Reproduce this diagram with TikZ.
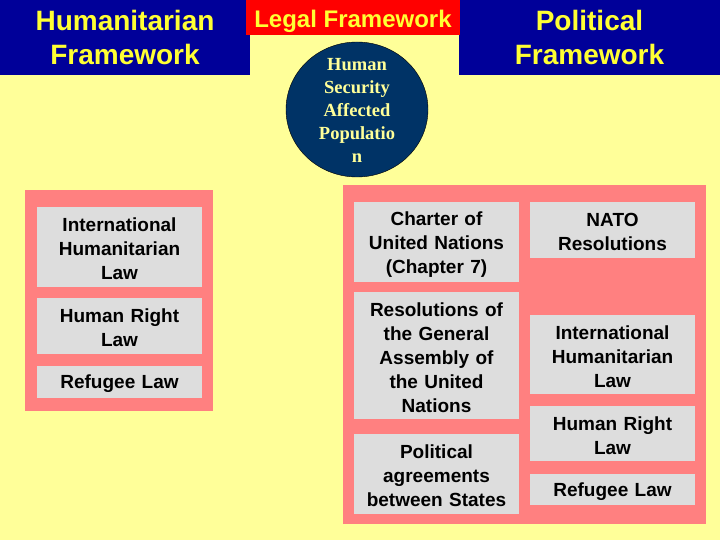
\documentclass[tikz,border=0pt]{standalone}
\usepackage{fontspec}
\setmainfont{Liberation Sans}
\newfontfamily\circlefont{Liberation Serif}

\definecolor{paleyellow}{RGB}{255,255,153}
\definecolor{titleblue}{RGB}{0,0,153}
\definecolor{titlered}{RGB}{255,0,0}
\definecolor{titletext}{RGB}{255,255,51}
\definecolor{panelpink}{RGB}{255,128,128}
\definecolor{boxgray}{RGB}{221,221,221}
\definecolor{circlenavy}{RGB}{0,51,102}

\begin{document}
\begin{tikzpicture}[x=1pt, y=-1pt,
	title/.style={fill=titleblue, text=titletext, inner sep=0pt, align=center, font=\bfseries\fontsize{28}{34}\selectfont},
	panel/.style={fill=panelpink, inner sep=0pt},
	law/.style={fill=boxgray, inner sep=0pt, minimum width=165pt, text width=165pt, align=center, font=\bfseries\fontsize{19}{24}\selectfont, execute at begin node={\rule{0pt}{18pt}}}]

	\fill[fill = paleyellow] (0, 0) rectangle (720, 540);

	% headings
	\node[title, minimum width=250pt, minimum height=75pt] (humtitle) at (125, 37.5) {Humanitarian\\Framework};
	\node[title, minimum width=261pt, minimum height=75pt] (poltitle) at (589.5, 37.5) {Political\\Framework};
	\node[title, fill=titlered, minimum width=214pt, minimum height=35pt, text height=21pt, text depth=1.5pt, font=\bfseries\fontsize{24}{28}\selectfont] (legtitle) at (353, 17.5) {Legal Framework};

	\filldraw[fill=circlenavy, draw=black, thin] (357, 109.5) ellipse [x radius=71, y radius=67.5];
	\node[text=paleyellow, inner sep=0pt, align=center, font=\circlefont\bfseries\fontsize{18.5}{23}\selectfont] (people) at (357, 110) {Human\\Security\\Affected\\Populatio\\n};

	% humanitarian side
	\node[panel, minimum width=188pt, minimum height=221pt] (humpanel) at (119, 300.5) {};
	\node[law, minimum height=80pt] (humihl) at (119.5, 247) {International\\Humanitarian\\Law};
	\node[law, minimum height=56pt] (humhr) at (119.5, 326) {Human Right\\Law};
	\node[law, minimum height=32pt] (humref) at (119.5, 382) {Refugee Law};

	% political side
	\node[panel, minimum width=363pt, minimum height=339pt] (polpanel) at (524.5, 354.5) {};
	\node[law, minimum height=80pt] (charter) at (436.5, 242) {Charter of\\United Nations\\(Chapter 7)};
	\node[law, minimum height=127pt] (assembly) at (436.5, 355.5) {Resolutions of\\the General\\Assembly of\\the United\\Nations};
	\node[law, minimum height=80pt] (agreements) at (436.5, 474) {Political\\agreements\\between States};

	\node[law, minimum height=56pt] (nato) at (612.5, 230) {NATO\\Resolutions};
	\node[law, minimum height=79pt] (polihl) at (612.5, 354.5) {International\\Humanitarian\\Law};
	\node[law, minimum height=55pt] (polhr) at (612.5, 433.5) {Human Right\\Law};
	\node[law, minimum height=31pt] (polref) at (612.5, 489.5) {Refugee Law};
\end{tikzpicture}
\end{document}
